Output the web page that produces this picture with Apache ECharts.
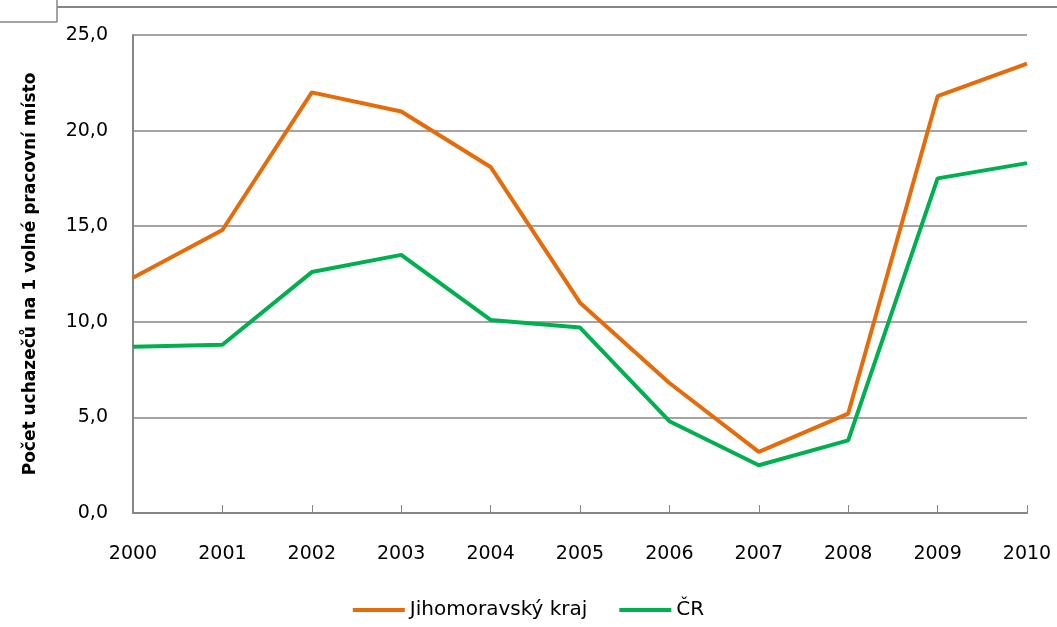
<!DOCTYPE html>
<html lang="cs">
<head>
    <meta charset="utf-8">
    <title>Počet uchazečů na 1 volné pracovní místo</title>
    <style>
        html, body { margin: 0; padding: 0; background: #fff; }
        #main { width: 1057px; height: 627px; }
    </style>
</head>
<body>
    <div id="main"></div>
    <script src="https://cdn.jsdelivr.net/npm/echarts@6/dist/echarts.min.js"></script>
    <script>
    var years = ['2000', '2001', '2002', '2003', '2004', '2005', '2006', '2007', '2008', '2009', '2010'];
    var jihomoravsky = [12.3, 14.8, 22.0, 21.0, 18.1, 11.0, 6.8, 3.2, 5.2, 21.8, 23.5];
    var cr = [8.7, 8.8, 12.6, 13.5, 10.1, 9.7, 4.8, 2.5, 3.8, 17.5, 18.3];
    var seriesNames = ['Jihomoravský kraj', 'ČR'];

    var FONT = '"DejaVu Sans", "Noto Sans", sans-serif';
    var chart = echarts.init(document.getElementById('main'));

    var option = {
        animation: false,
        textStyle: { fontFamily: FONT },
        grid: { left: 133, right: 30, top: 35, bottom: 114 },
        legend: {
            bottom: 2,
            left: 'center',
            itemWidth: 52,
            itemHeight: 4,
            itemGap: 32,
            icon: 'rect',
            textStyle: { fontSize: 20, color: '#000', fontFamily: FONT },
            data: seriesNames
        },
        xAxis: {
            type: 'category',
            data: years,
            boundaryGap: false,
            axisLine: { lineStyle: { color: '#868686', width: 2 } },
            axisTick: { inside: true, length: 8, lineStyle: { color: '#868686' } },
            axisLabel: { fontSize: 19, color: '#000', margin: 32 }
        },
        yAxis: {
            type: 'value',
            min: 0,
            max: 25,
            interval: 5,
            name: 'Počet uchazečů na 1 volné pracovní místo',
            nameLocation: 'middle',
            nameGap: 94,
            nameTextStyle: { fontSize: 17, fontWeight: 'bold', color: '#000' },
            axisLine: { show: true, lineStyle: { color: '#868686', width: 2 } },
            axisTick: { show: false },
            splitLine: { lineStyle: { color: '#868686', width: 1.5 } },
            axisLabel: {
                fontSize: 19,
                color: '#000',
                margin: 25,
                formatter: function (v) { return v.toFixed(1).replace('.', ','); }
            }
        },
        series: [
            {
                name: seriesNames[0],
                type: 'line',
                data: jihomoravsky,
                symbol: 'none',
                lineStyle: { color: '#E46C0A', width: 4 },
                itemStyle: { color: '#E46C0A' }
            },
            {
                name: seriesNames[1],
                type: 'line',
                data: cr,
                symbol: 'none',
                lineStyle: { color: '#00B050', width: 4 },
                itemStyle: { color: '#00B050' }
            }
        ],
        graphic: [
            // remains of the outer frame at the top
            { type: 'line', shape: { x1: 57, y1: 7, x2: 1057, y2: 7 }, style: { stroke: '#868686', lineWidth: 2 } },
            { type: 'line', shape: { x1: 57, y1: 0, x2: 57, y2: 22 }, style: { stroke: '#868686', lineWidth: 1.5 } },
            { type: 'line', shape: { x1: 0, y1: 22, x2: 57, y2: 22 }, style: { stroke: '#868686', lineWidth: 1.5 } }
        ]
    };

    chart.setOption(option);
    </script>
</body>
</html>
